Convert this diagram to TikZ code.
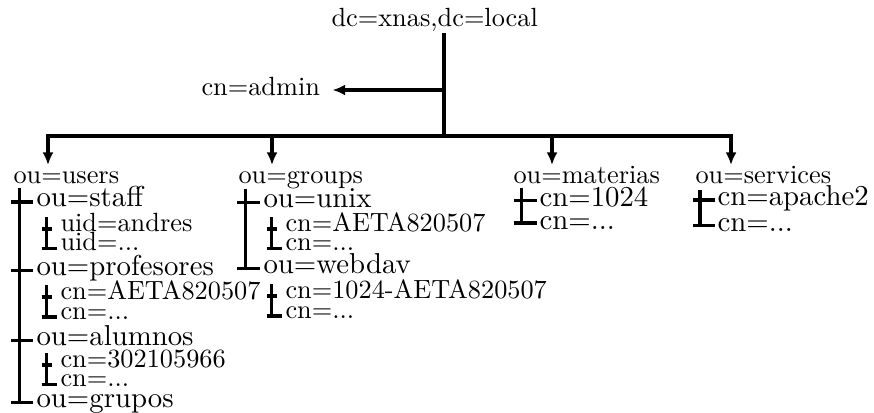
\documentclass[tikz,border=0pt]{standalone}
\usetikzlibrary{arrows.meta,calc}
\tikzset{
  lA/.style={anchor=base west, inner sep=0pt, font=\fontsize{10}{12}\selectfont},
  lB/.style={anchor=base west, inner sep=0pt, font=\fontsize{10.95}{13}\selectfont},
  tree/.style={line width=1.2pt},
  arr/.style={line width=1.2pt, -{Latex[length=4.8pt,width=4.2pt]}},
}
\newcommand\gkonn[2]{%
  \coordinate (g1) at ($(#1.base west)+(-8,-2)$);
  \coordinate (g2) at ($(#2.base west)+(-3,-2)$);
  \coordinate (gt) at ($(#1.base west)+(-13.5,-14)$);
  \draw[tree] (gt) -- (gt |- g2);
  \draw[tree] (gt |- g1) ++(-5,0) -- (g1);
  \draw[tree] (gt |- g2) ++(-5,0) -- (g2);
}
\begin{document}
\begin{tikzpicture}[x=0.38pt,y=-0.38pt]
\useasboundingbox (0,0) rectangle (874,412);
% texts
\node[lA] (root) at (331,26) {dc=xnas,dc=local};
\node[lA] (admin) at (201,95) {cn=admin};
\node[lA] (users) at (13,183.5) {ou=users};
\node[lA] (groups) at (238,183.5) {ou=groups};
\node[lA] (materias) at (513,183.5) {ou=materias};
\node[lA] (services) at (695,183.5) {ou=services};
% users
\node[lB] (staff) at (36,206.5) {ou=staff};
\node[lA] (sa1) at (60,231) {uid=andres};
\node[lA] (sa2) at (60,250.5) {uid=...};
\node[lB] (prof) at (36,275) {ou=profesores};
\node[lA] (pa1) at (60,299) {cn=AETA820507};
\node[lA] (pa2) at (60,319) {cn=...};
\node[lB] (alum) at (36,345) {ou=alumnos};
\node[lA] (aa1) at (60,367) {cn=302105966};
\node[lA] (aa2) at (60,386.5) {cn=...};
\node[lB] (grupos) at (36,407) {ou=grupos};
% groups
\node[lB] (unix) at (263,207.5) {ou=unix};
\node[lA] (ua1) at (285,231) {cn=AETA820507};
\node[lA] (ua2) at (285,250.5) {cn=...};
\node[lB] (webdav) at (263,273.5) {ou=webdav};
\node[lA] (wa1) at (285,298) {cn=1024-AETA820507};
\node[lA] (wa2) at (285,318) {cn=...};
% materias, services
\node[lB] (m1) at (539,206.5) {cn=1024};
\node[lB] (m2) at (539,229) {cn=...};
\node[lB] (s1) at (717,205.5) {cn=apache2};
\node[lB] (s2) at (717,231) {cn=...};
% top connectors
\coordinate (rv) at ($(root.base west)+(113,7)$);
\coordinate (bus) at ($(rv)+(0,103)$);
\coordinate (aj) at ($(rv)+(0,57)$);
\coordinate (atip) at ($(admin.base east)+(12,-5)$);
\draw[tree] (rv) -- (bus);
\draw[arr] (aj) -- (aj -| atip);
\coordinate (au) at ($(users.base west)+(35,-18.5)$);
\coordinate (ag) at ($(groups.base west)+(34,-18.5)$);
\coordinate (am) at ($(materias.base west)+(39,-18.5)$);
\coordinate (as) at ($(services.base west)+(36,-18.5)$);
\draw[arr] (bus) -| (au);
\draw[arr] (bus) -| (as);
\draw[arr] (bus -| ag) -- (ag);
\draw[arr] (bus -| am) -- (am);
% level 1 verticals
\coordinate (uv) at ($(users.base west)+(6.5,4)$);
\foreach \c in {staff,prof,alum,grupos}
  \coordinate (t\c) at ($(\c.base west)+(-3,-4.5)$);
\draw[tree] (uv) -- (uv |- tgrupos);
\foreach \c in {staff,prof,alum,grupos}
  \draw[tree] (uv |- t\c) ++(-8.5,0) -- (t\c);
\coordinate (gv) at ($(groups.base west)+(7.5,5)$);
\foreach \c in {unix,webdav}
  \coordinate (t\c) at ($(\c.base west)+(-3,-5)$);
\draw[tree] (gv) -- (gv |- twebdav);
\foreach \c in {unix,webdav}
  \draw[tree] (gv |- t\c) ++(-8.5,0) -- (t\c);
\coordinate (mv) at ($(materias.base west)+(8.5,4)$);
\foreach \c in {m1,m2}
  \coordinate (t\c) at ($(\c.base west)+(-2.5,-6)$);
\draw[tree] (mv) -- (mv |- tm2);
\foreach \c in {m1,m2}
  \draw[tree] (mv |- t\c) ++(-8,0) -- (t\c);
\coordinate (sv) at ($(services.base west)+(5,6)$);
\foreach \c in {s1,s2}
  \coordinate (t\c) at ($(\c.base west)+(-2,-5.5)$);
\draw[tree] (sv) -- (sv |- ts2);
\foreach \c in {s1,s2}
  \draw[tree] (sv |- t\c) ++(-7,0) -- (t\c);
% level 2 connectors
\gkonn{sa1}{sa2}
\gkonn{pa1}{pa2}
\gkonn{aa1}{aa2}
\gkonn{ua1}{ua2}
\gkonn{wa1}{wa2}
\end{tikzpicture}
\end{document}
